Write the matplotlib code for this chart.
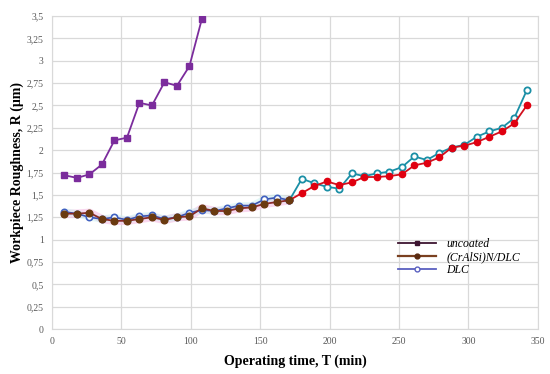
import matplotlib.pyplot as plt
from matplotlib.lines import Line2D
from matplotlib.ticker import FuncFormatter

plt.rcParams['font.family'] = ['Liberation Serif', 'DejaVu Serif']

# operating time (min)
t_uncoated = [9, 18, 27, 36, 45, 54, 63, 72, 81, 90, 99, 108]
r_uncoated = [1.72, 1.69, 1.73, 1.84, 2.11, 2.14, 2.53, 2.50, 2.76, 2.72, 2.94, 3.47]

t_coated = [9, 18, 27, 36, 45, 54, 63, 72, 81, 90, 99, 108, 117, 126, 135, 144, 153, 162, 171,
            180, 189, 198, 207, 216, 225, 234, 243, 252, 261, 270, 279, 288, 297, 306, 315, 324, 333, 342]
r_cralsin = [1.29, 1.29, 1.30, 1.23, 1.21, 1.21, 1.23, 1.25, 1.22, 1.25, 1.26, 1.35, 1.32, 1.32, 1.35, 1.36, 1.40, 1.42, 1.44,
             1.52, 1.60, 1.65, 1.61, 1.64, 1.70, 1.70, 1.71, 1.73, 1.83, 1.86, 1.92, 2.03, 2.05, 2.09, 2.15, 2.21, 2.30, 2.50]
r_dlc = [1.31, 1.29, 1.25, 1.23, 1.25, 1.22, 1.26, 1.27, 1.23, 1.25, 1.30, 1.33, 1.32, 1.35, 1.38, 1.38, 1.45, 1.47, 1.44,
         1.68, 1.63, 1.59, 1.57, 1.74, 1.71, 1.74, 1.76, 1.81, 1.93, 1.89, 1.97, 2.03, 2.06, 2.15, 2.21, 2.25, 2.36, 2.67]

split = 19  # up to 171 min the coated curves look darker in the original

fig = plt.figure(figsize=(5.5, 3.74), dpi=100)
ax = fig.add_axes([0.0945, 0.1203, 0.8835, 0.8367])

# pale glow under the early part
ax.plot(t_coated[:split], r_cralsin[:split], color='#f7c6e8', lw=6, alpha=0.7, zorder=1, solid_capstyle='round')
ax.plot(t_coated[:split], r_dlc[:split], color='#c9f0f0', lw=5, alpha=0.5, zorder=1, solid_capstyle='round')

# later part
ax.plot(t_coated[split - 1:], r_dlc[split - 1:], color='#1b8fa6', lw=1.3, marker='o', ms=4.5,
        mfc='white', mec='#1b8fa6', mew=1.3, zorder=3)
ax.plot(t_coated[split - 1:], r_cralsin[split - 1:], color='#d2101e', lw=1.3, marker='o', ms=4.5,
        mfc='#e00010', mec='#e00010', zorder=4)

# early part
ax.plot(t_coated[:split], r_dlc[:split], color='#3b55b0', lw=1.2, marker='o', ms=4.5,
        mfc='white', mec='#4060c0', mew=1.2, zorder=3)
ax.plot(t_coated[:split], r_cralsin[:split], color='#8a2a2a', lw=1.3, marker='o', ms=4.8,
        mfc='#6a3a10', mec='#6a3a10', zorder=5)

ax.plot(t_uncoated, r_uncoated, color='#7b2c9c', lw=1.3, marker='s', ms=4.5,
        mfc='#7b2c9c', mec='#7b2c9c', zorder=4)

ax.set_xlim(0, 350)
ax.set_ylim(0, 3.5)
ax.set_xticks(range(0, 351, 50))
ax.set_yticks([i * 0.25 for i in range(15)])
ax.yaxis.set_major_formatter(FuncFormatter(lambda v, p: ('%g' % v).replace('.', ',')))
ax.grid(True, color='#d9d9d9', lw=0.9)
ax.set_axisbelow(True)
for s in ax.spines.values():
    s.set_color('#d9d9d9')
ax.tick_params(length=0, labelsize=7, colors='#595959', pad=6)

ax.set_xlabel('Operating time, T (min)', fontsize=10, fontweight='bold', labelpad=6)
ax.set_ylabel('Workpiece Roughness, R (μm)', fontsize=10, fontweight='bold', labelpad=2)

handles = [
    Line2D([], [], color='#3d1530', lw=1.3, marker='s', ms=3.5, mfc='#3d1530', mec='#3d1530'),
    Line2D([], [], color='#7a4020', lw=1.6, marker='o', ms=3.5, mfc='#5a2a10', mec='#5a2a10'),
    Line2D([], [], color='#5a60c0', lw=1.3, marker='o', ms=3.5, mfc='white', mec='#5a60c0'),
]
labels = ['uncoated', '(CrAlSi)N/DLC', 'DLC']
leg = ax.legend(handles, labels, loc='center left', bbox_to_anchor=(0.69, 0.23), frameon=False,
                prop={'style': 'italic', 'size': 8.5}, handlelength=3.2, labelspacing=0.1,
                handletextpad=0.9)

fig.savefig('out.png', dpi=100)
